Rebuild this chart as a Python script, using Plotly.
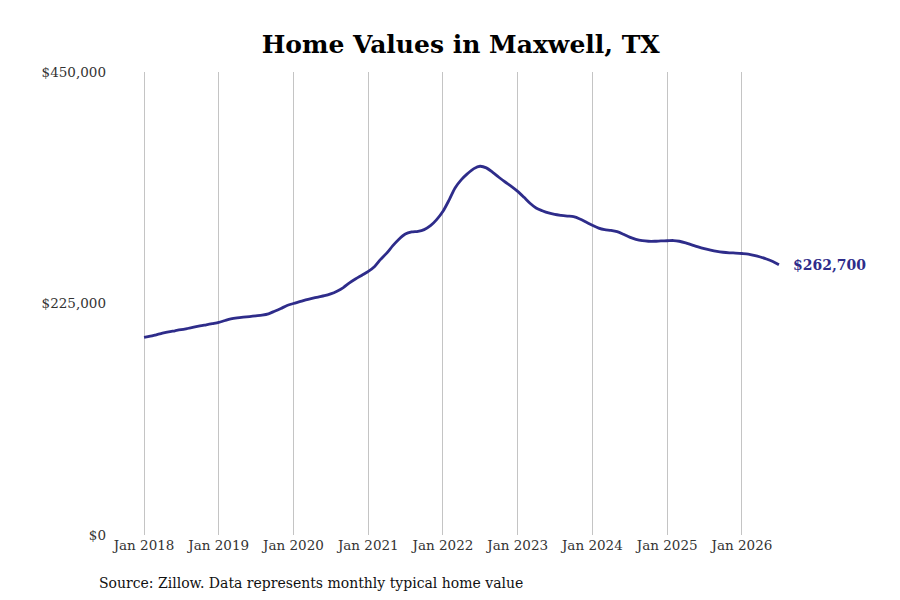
import plotly.graph_objects as go
import pandas as pd

# monthly typical home value, Jan 2018 - Jul 2026 (thousands of $)
months = pd.date_range("2018-01-01", "2026-07-01", freq="MS")
values_k = [
    192.0, 193.2, 194.6, 196.2, 197.5, 198.5, 199.5, 200.7, 202.0, 203.2, 204.3, 205.4,
    206.6, 208.5, 210.0, 211.0, 211.7, 212.3, 213.0, 213.7, 215.0, 217.5, 220.2, 223.0,
    225.0, 226.8, 228.5, 230.0, 231.3, 232.6, 234.4, 237.0, 240.5, 245.0, 249.0, 252.5,
    256.2, 261.0, 267.6, 274.0, 281.2, 287.7, 292.5, 294.5, 295.1, 296.8, 300.6, 306.5,
    314.6, 326.0, 337.3, 345.4, 351.2, 356.1, 358.4, 356.8, 352.5, 347.7, 343.1, 338.9,
    334.0, 328.2, 322.7, 317.8, 315.2, 313.0, 311.6, 310.7, 310.0, 309.4, 307.2, 304.2,
    301.0, 298.3, 296.8, 296.0, 294.8, 292.3, 289.5, 287.3, 286.0, 285.5, 285.5, 285.8,
    286.0, 286.2, 285.5, 284.0, 282.0, 280.0, 278.3, 276.8, 275.6, 274.8, 274.3, 274.0,
    273.6, 273.0, 271.8, 270.2, 268.3, 265.8, 262.7,
]
values = [v * 1000 for v in values_k]

tick_dates = pd.date_range("2018-01-01", "2026-01-01", freq="YS")
tick_text = [d.strftime("Jan %Y") for d in tick_dates]
y_ticks = [0, 225000, 450000]
y_text = ["$0", "$225,000", "$450,000"]

line_color = "#2e2c8a"
font = "DejaVu Serif"

fig = go.Figure()
fig.add_trace(go.Scatter(
    x=months, y=values, mode="lines",
    line=dict(color=line_color, width=2.8, shape="spline", smoothing=0.8),
    hoverinfo="skip",
))

fig.add_annotation(
    x=months[-1], y=values[-1], text=f"<b>${values[-1]:,.0f}</b>",
    showarrow=False, xanchor="left", xshift=12,
    font=dict(family=font, size=14, color=line_color),
)
fig.add_annotation(
    xref="paper", yref="paper", x=-0.024, y=-0.104, xanchor="left", yanchor="middle",
    text="Source: Zillow. Data represents monthly typical home value",
    showarrow=False, font=dict(family=font, size=14, color="#111111"),
)

# page body adds an 8px margin, so margins are trimmed by that much
fig.update_layout(
    width=900, height=600,
    title=dict(text="<b>Home Values in Maxwell, TX</b>", x=0.503, xanchor="center",
               y=0.94, yanchor="middle",
               font=dict(family=font, size=25, color="#000000")),
    paper_bgcolor="white", plot_bgcolor="white",
    margin=dict(l=107, r=38, t=64, b=73),
    showlegend=False,
    font=dict(family=font, size=13, color="#333333"),
)
fig.update_xaxes(
    range=["2017-08-12", "2027-09-19"],
    tickvals=tick_dates, ticktext=tick_text,
    showgrid=True, gridcolor="#c4c4c4", gridwidth=1,
    showline=False, zeroline=False, ticks="",
    tickfont=dict(family=font, size=13.5, color="#333333"),
)
fig.update_yaxes(
    range=[0, 450000], tickvals=y_ticks, ticktext=y_text,
    showgrid=False, zeroline=False, showline=False, ticks="", ticklabelstandoff=8,
    tickfont=dict(family=font, size=13.5, color="#333333"),
)

fig.write_html("out.html")
